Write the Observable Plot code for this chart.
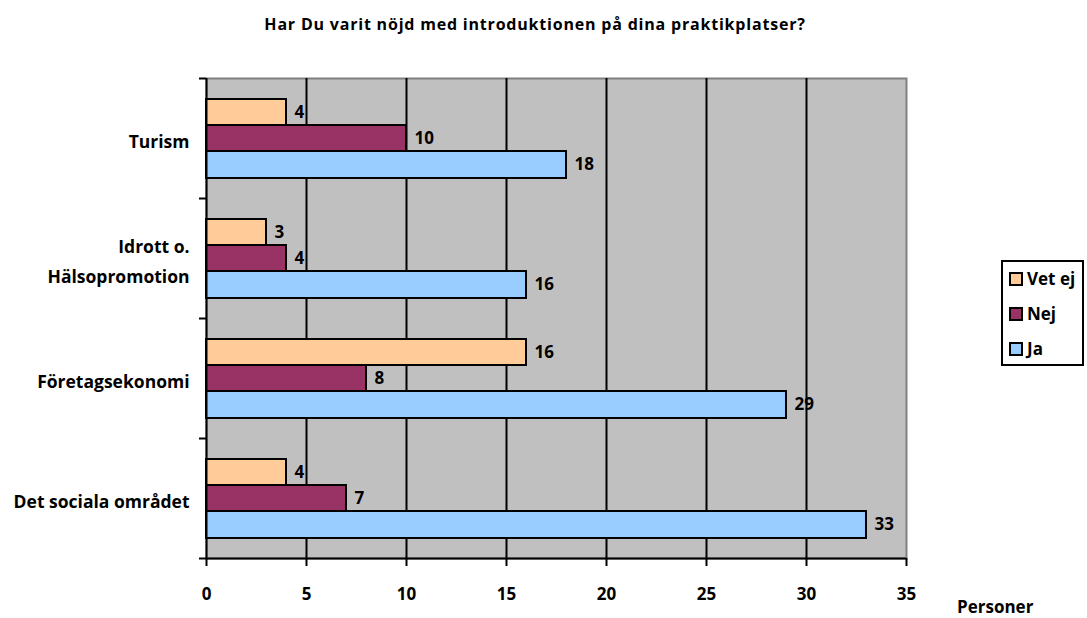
<!DOCTYPE html>
<html>
<head>
<meta charset="utf-8">
<script src="https://cdn.jsdelivr.net/npm/d3@7"></script>
<script src="https://cdn.jsdelivr.net/npm/@observablehq/plot@0.6"></script>
<style>
  body { margin: 0; background: #fff; font-family: "Open Sans", sans-serif; }
  #wrap { position: relative; width: 1087px; height: 618px; overflow: hidden; }
  #title { position: absolute; top: 14px; left: 0; width: 1070px; text-align: center; font-weight: bold; font-size: 16px; letter-spacing: 0.8px; line-height: 20px; color: #000; }
  #chart { position: absolute; left: 0; top: 0; }
  #legend { position: absolute; left: 1001px; top: 260px; width: 83px; height: 106px; border: 2px solid #000; background: #fff; box-sizing: border-box; }
  .li { position: absolute; left: 6px; height: 20px; line-height: 20px; font-weight: bold; font-size: 17px; }
  .sw { display: inline-block; width: 10px; height: 10px; border: 2px solid #000; vertical-align: -1px; margin-right: 4px; }
  #xlabel { position: absolute; left: 957px; top: 597px; font-weight: bold; font-size: 17px; line-height: 20px; }
</style>
</head>
<body>
<div id="wrap">
  <div id="title">Har Du varit nöjd med introduktionen på dina praktikplatser?</div>
  <div id="chart"></div>
  <div id="legend"></div>
  <div id="xlabel">Personer</div>
</div>
<script>
const categories = ["Turism", "Idrott o.\nHälsopromotion", "Företagsekonomi", "Det sociala området"];
const series = ["Vet ej", "Nej", "Ja"];
const vetEj = [4, 3, 16, 4];
const nej = [10, 4, 8, 7];
const ja = [18, 16, 29, 33];
const xTicks = [0, 5, 10, 15, 20, 25, 30, 35];
const colors = ["#FFCC99", "#993366", "#99CCFF"];

const valuesBySeries = [vetEj, nej, ja];
const rows = [];
series.forEach((s, si) => categories.forEach((c, ci) => rows.push({cat: c, series: s, value: valuesBySeries[si][ci]})));

const insets = {"Vet ej": [21, 73, -26], "Nej": [47, 47, 0], "Ja": [73, 20, 26]};
const font = {fontFamily: "Open Sans", fontWeight: "bold", fontSize: 17};

const barMarks = series.flatMap(s => {
  const d = rows.filter(r => r.series === s);
  const [it, ib, dy] = insets[s];
  return [
    Plot.barX(d, {x: "value", y: "cat", fill: "series", stroke: "black", strokeWidth: 2, insetTop: it, insetBottom: ib}),
    Plot.text(d, {x: "value", y: "cat", text: r => String(r.value), dx: 8, dy, textAnchor: "start", fill: "black", ...font})
  ];
});

const chart = Plot.plot({
  width: 1087,
  height: 618,
  marginTop: 78,
  marginBottom: 60,
  marginLeft: 206,
  marginRight: 181,
  style: {background: "transparent", color: "black", fontFamily: "Open Sans", fontWeight: "bold", fontSize: "17px"},
  x: {domain: [0, 35], axis: null},
  y: {domain: categories, padding: 0, axis: null},
  color: {domain: series, range: colors},
  marks: [
    Plot.frame({fill: "#C0C0C0", stroke: "#808080", strokeWidth: 2}),
    Plot.gridX(xTicks.filter(t => t > 0 && t < 35), {stroke: "black", strokeOpacity: 1, strokeWidth: 2}),
    ...barMarks,
    Plot.ruleX([0], {stroke: "black", strokeWidth: 2}),
    Plot.ruleY([categories[categories.length - 1]], {stroke: "black", strokeWidth: 2, dy: 60}),
    Plot.axisY({ticks: categories, tickSize: 7, fill: "none", label: null, stroke: "black", strokeWidth: 2, dy: -60}),
    Plot.axisY({ticks: [categories[categories.length - 1]], tickSize: 7, fill: "none", label: null, stroke: "black", strokeWidth: 2, dy: 60}),
    Plot.text(categories, {y: d => d, text: d => d, frameAnchor: "left", dx: -17, textAnchor: "end", lineHeight: 1.7, fill: "black", ...font, fontSize: 17.5}),
    Plot.axisX({ticks: xTicks, tickSize: 8, tickPadding: 21, label: null, stroke: "black", strokeWidth: 2, fill: "black", ...font})
  ]
});
document.getElementById("chart").appendChild(chart);

const legend = document.getElementById("legend");
series.forEach((s, i) => {
  const el = document.createElement("div");
  el.className = "li";
  el.style.top = (7 + i * 35) + "px";
  el.innerHTML = `<span class="sw" style="background:${colors[i]}"></span>${s}`;
  legend.appendChild(el);
});
</script>
</body>
</html>
